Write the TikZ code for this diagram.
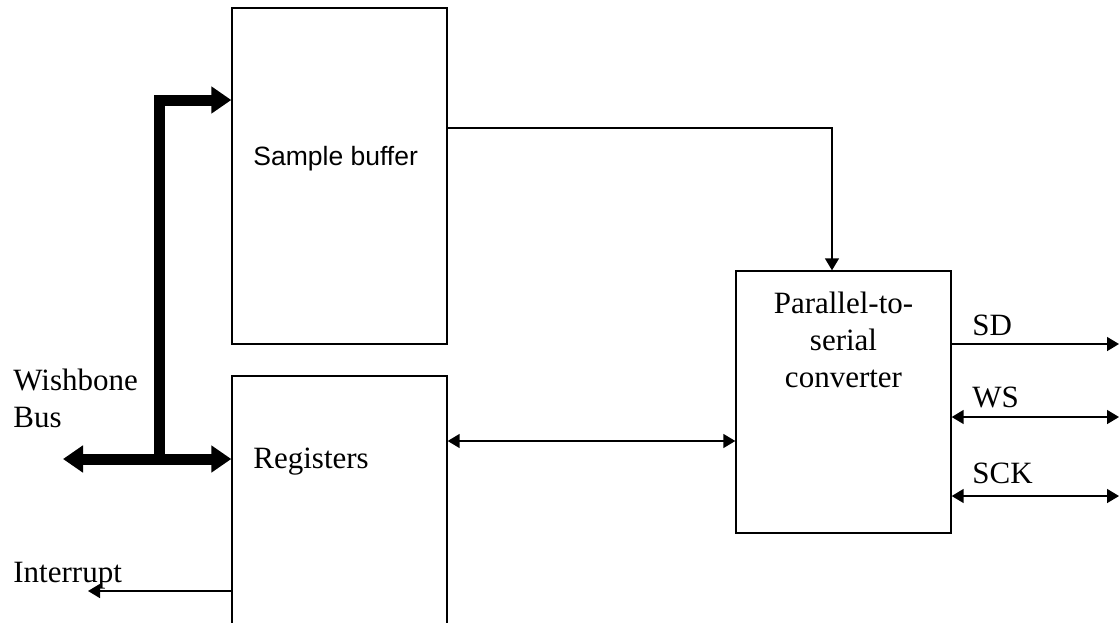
\documentclass[tikz,border=0pt]{standalone}
\usepackage{fontspec}
\setmainfont{Liberation Serif}
\newfontfamily\arialfont{Liberation Sans}
\usetikzlibrary{arrows.meta}
\begin{document}
\begin{tikzpicture}[x=0.5pt,y=-0.5pt,
  blk/.style={draw,line width=0.7pt,inner sep=0pt,minimum width=107.5pt},
  lbl/.style={inner sep=0pt,anchor=base west,font=\fontsize{15.5pt}{18.5pt}\selectfont},
  ctr/.style={inner sep=0pt,anchor=base,font=\fontsize{15.5pt}{18.5pt}\selectfont},
  sig/.style={line width=0.75pt,arrows={-Triangle[length=6pt,width=7pt]}},
  bisig/.style={line width=0.75pt,arrows={Triangle[length=6pt,width=7pt]-Triangle[length=6pt,width=7pt]}},
  bus/.style={line width=5.5pt,line join=miter,arrows={-Triangle[length=10pt,width=13pt]}},
  bibus/.style={line width=5.5pt,arrows={Triangle[length=10pt,width=13pt]-Triangle[length=10pt,width=13pt]}}]
\clip (0,0) rectangle (1119,622);
\fill[white] (0,0) rectangle (1119,622);
% blocks
\node[blk,minimum height=168pt] (sb) at (339.5,176) {};
\node[blk,minimum height=212pt] (reg) at (339.5,588) {};
\node[blk,minimum height=131pt] (p2s) at (843.5,402) {};
% block texts
\node[inner sep=0pt,anchor=base west,font=\arialfont\fontsize{13.25pt}{16pt}\selectfont] (sbtext) at (253,165) {Sample buffer};
\node[lbl] (regtext) at (253,468) {Registers};
\node[ctr] (p2sa) at (843.5,313) {Parallel-to-};
\node[ctr] (p2sb) at (843.5,350) {serial};
\node[ctr] (p2sc) at (843.5,387) {converter};
% outside labels
\node[lbl] (wb1) at (13,390) {Wishbone};
\node[lbl] (wb2) at (13,427) {Bus};
\node[lbl] (intl) at (13,582) {Interrupt};
\node[lbl] (sdl) at (972,335) {SD};
\node[lbl] (wsl) at (972,407) {WS};
\node[lbl] (sckl) at (972,483) {SCK};
% helper coordinates
\coordinate (busTop) at (159,100);
\coordinate (busJ) at (159,459);
\coordinate (busL) at (63,459);
\coordinate (turn) at (832,128);
\coordinate (rowA) at (0,441);
\coordinate (intEnd) at (88,591);
\coordinate (sdEnd) at (1119,344);
\coordinate (wsEnd) at (1119,417);
\coordinate (sckEnd) at (1119,496);
% bus
\draw[bus] (busJ) -- (busTop) -- (sb.west |- busTop);
\draw[bibus] (busL) -- (reg.west |- busJ);
% signals
\draw[sig] (sb.east |- turn) -| (p2s.north -| turn);
\draw[bisig] (reg.east |- rowA) -- (p2s.west |- rowA);
\draw[sig] (reg.west |- intEnd) -- (intEnd);
\draw[sig] (p2s.east |- sdEnd) -- (sdEnd);
\draw[bisig] (p2s.east |- wsEnd) -- (wsEnd);
\draw[bisig] (p2s.east |- sckEnd) -- (sckEnd);
\end{tikzpicture}
\end{document}
